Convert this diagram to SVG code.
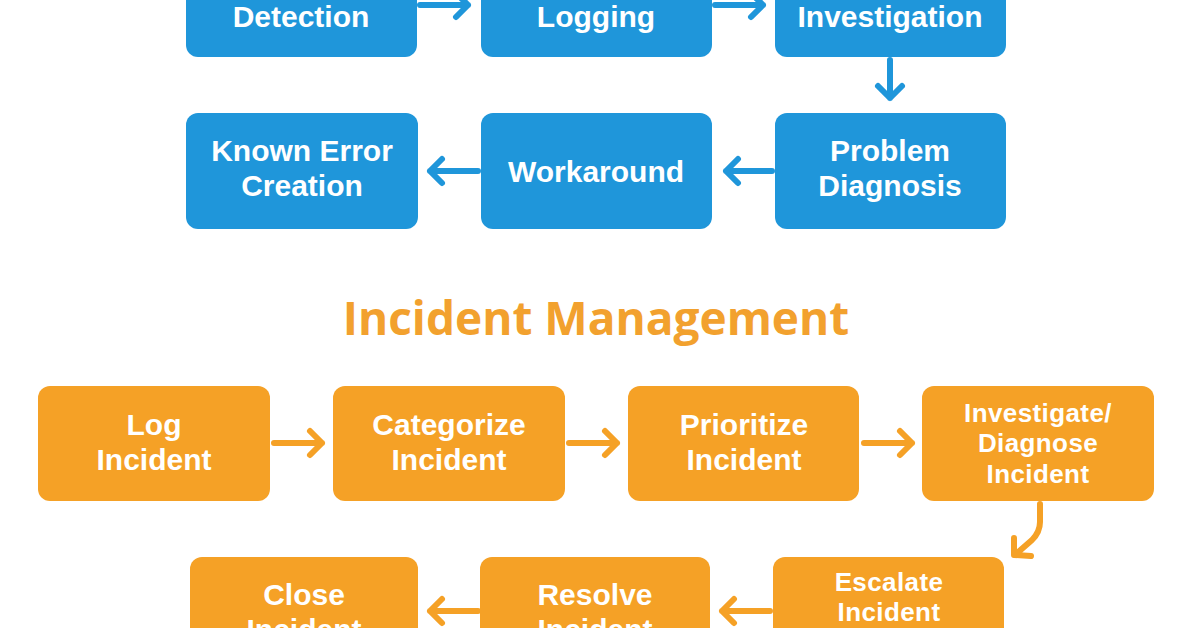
<svg xmlns="http://www.w3.org/2000/svg" width="1196" height="628" viewBox="0 0 1196 628">
<style>
.bb{fill:#1f96da}
.ob{fill:#f5a126}
.t{font-family:"Liberation Sans",Arial,sans-serif;font-weight:bold;fill:#ffffff;text-anchor:middle}
.tb{font-size:30px}
.to{font-size:30px}
.ts{font-size:26px;letter-spacing:0.4px}
.title{font-family:"Open Sans","Liberation Sans",sans-serif;font-weight:bold;font-size:46px;fill:#f2a12e;text-anchor:middle}
.ab{fill:none;stroke:#1f96da;stroke-width:6;stroke-linecap:round;stroke-linejoin:round}
.ao{fill:none;stroke:#f5a126;stroke-width:6;stroke-linecap:round;stroke-linejoin:round}
</style>
<rect width="1196" height="628" fill="#ffffff"/>
<g id="connectors">
<path class="ab" d="M420 5 H468 M456 -7 L468 5 L456 17"/>
<path class="ab" d="M715 5 H763 M751 -7 L763 5 L751 17"/>
<path class="ab" d="M890 60 V98 M878 86 L890 98 L902 86"/>
<path class="ab" d="M772 171 H726 M738 159 L726 171 L738 183"/>
<path class="ab" d="M478 171 H430 M442 159 L430 171 L442 183"/>
<path class="ao" d="M274 443 H322 M310 431 L322 443 L310 455"/>
<path class="ao" d="M569 443 H617 M605 431 L617 443 L605 455"/>
<path class="ao" d="M864 443 H912 M900 431 L912 443 L900 455"/>
<path class="ao" d="M1040 504 V522 Q1040 532 1032 540 L1016 554 M1014 538 L1014 555 L1031 556"/>
<path class="ao" d="M770 611 H722 M734 599 L722 611 L734 623"/>
<path class="ao" d="M478 611 H430 M442 599 L430 611 L442 623"/>
</g>
<g id="detection"><rect class="bb" x="186" y="-60" width="231" height="117" rx="12"/><text class="t tb" x="301" y="27">Detection</text></g>
<g id="logging"><rect class="bb" x="481" y="-60" width="231" height="117" rx="12"/><text class="t tb" x="596" y="27">Logging</text></g>
<g id="investigation"><rect class="bb" x="775" y="-60" width="231" height="117" rx="12"/><text class="t tb" x="890" y="27">Investigation</text></g>
<g id="known-error"><rect class="bb" x="186" y="113" width="232" height="116" rx="12"/><text class="t tb" x="302" y="161">Known Error</text><text class="t tb" x="302" y="196">Creation</text></g>
<g id="workaround"><rect class="bb" x="481" y="113" width="231" height="116" rx="12"/><text class="t tb" x="596" y="182">Workaround</text></g>
<g id="problem-diagnosis"><rect class="bb" x="775" y="113" width="231" height="116" rx="12"/><text class="t tb" x="890" y="161">Problem</text><text class="t tb" x="890" y="196">Diagnosis</text></g>
<text class="title" x="596" y="335">Incident Management</text>
<g id="log-incident"><rect class="ob" x="38" y="386" width="232" height="115" rx="12"/><text class="t to" x="154" y="435">Log</text><text class="t to" x="154" y="470">Incident</text></g>
<g id="categorize"><rect class="ob" x="333" y="386" width="232" height="115" rx="12"/><text class="t to" x="449" y="435">Categorize</text><text class="t to" x="449" y="470">Incident</text></g>
<g id="prioritize"><rect class="ob" x="628" y="386" width="231" height="115" rx="12"/><text class="t to" x="744" y="435">Prioritize</text><text class="t to" x="744" y="470">Incident</text></g>
<g id="investigate"><rect class="ob" x="922" y="386" width="232" height="115" rx="12"/><text class="t ts" x="1038" y="422">Investigate/</text><text class="t ts" x="1038" y="452">Diagnose</text><text class="t ts" x="1038" y="483">Incident</text></g>
<g id="escalate"><rect class="ob" x="773" y="557" width="231" height="115" rx="12"/><text class="t ts" x="889" y="591">Escalate</text><text class="t ts" x="889" y="621">Incident</text></g>
<g id="resolve"><rect class="ob" x="480" y="557" width="230" height="115" rx="12"/><text class="t to" x="595" y="605">Resolve</text><text class="t to" x="595" y="640">Incident</text></g>
<g id="close"><rect class="ob" x="190" y="557" width="228" height="115" rx="12"/><text class="t to" x="304" y="605">Close</text><text class="t to" x="304" y="640">Incident</text></g>
</svg>
